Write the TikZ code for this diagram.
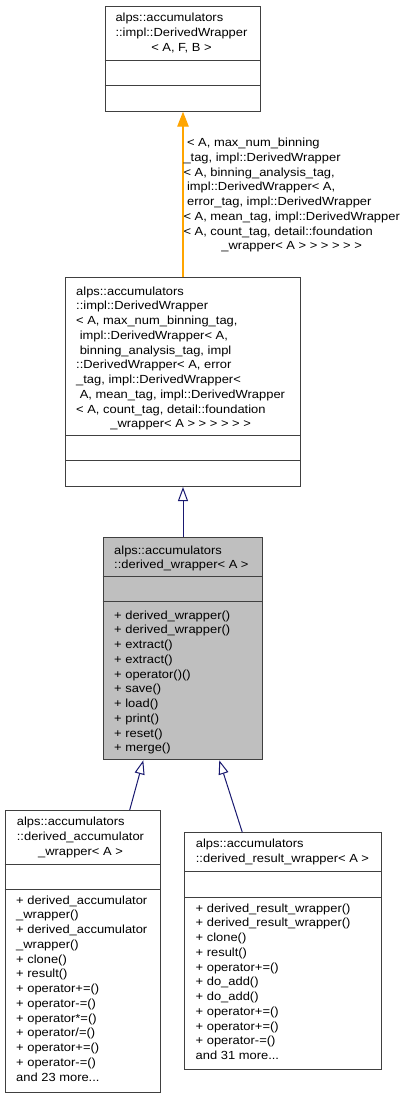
\documentclass[tikz,border=0pt]{standalone}
\usepackage{fontspec}
\setmainfont{Liberation Sans}[FakeStretch=1.1]
\usetikzlibrary{arrows.meta}
\definecolor{bordergray}{HTML}{404040}
\definecolor{edgeblue}{HTML}{191970}
\definecolor{edgeorange}{HTML}{FFA500}
\definecolor{fillgray}{HTML}{BFBFBF}
\begin{document}
\begin{tikzpicture}[x=1pt,y=-1pt,
  classbox/.style={draw=bordergray, line width=1pt, inner sep=0pt, anchor=north west},
  divider/.style={draw=bordergray, line width=1pt},
  txt/.style={font=\fontsize{11.75}{14.75}\selectfont, inner sep=0pt, anchor=base west, text=black},
  inh/.style={color=edgeblue, line width=1pt, -{Triangle[open, length=14pt, width=10pt]}},
  tmpl/.style={color=edgeorange, line width=1.2pt, -{Triangle[length=15pt, width=11.5pt, fill=edgeorange]}}]
\useasboundingbox[fill=white] (0,0) rectangle (409,1097);

% class boxes
\node[classbox, minimum width=155.6pt, minimum height=105pt] (b1) at (104.7,5.7) {};
\node[classbox, minimum width=235pt, minimum height=208.7pt] (b2) at (65,277.3) {};
\node[classbox, fill=fillgray, minimum width=159.6pt, minimum height=222.6pt] (b3) at (102.7,536.7) {};
\node[classbox, minimum width=155.6pt, minimum height=281.7pt] (b4) at (4.7,810) {};
\node[classbox, minimum width=197pt, minimum height=236.4pt] (b5) at (184,832.3) {};

% compartment dividers
\draw[divider] (b1.west |- 0,61) -- (b1.east |- 0,61);
\draw[divider] (b1.west |- 0,86) -- (b1.east |- 0,86);
\draw[divider] (b2.west |- 0,435.5) -- (b2.east |- 0,435.5);
\draw[divider] (b2.west |- 0,460.7) -- (b2.east |- 0,460.7);
\draw[divider] (b3.west |- 0,576.7) -- (b3.east |- 0,576.7);
\draw[divider] (b3.west |- 0,601.7) -- (b3.east |- 0,601.7);
\draw[divider] (b4.west |- 0,864.3) -- (b4.east |- 0,864.3);
\draw[divider] (b4.west |- 0,889.3) -- (b4.east |- 0,889.3);
\draw[divider] (b5.west |- 0,871) -- (b5.east |- 0,871);
\draw[divider] (b5.west |- 0,897.3) -- (b5.east |- 0,897.3);

% texts
\node[txt] (t1) at (115.3,22) {\begin{tabular}[t]{@{}l@{}}alps::accumulators\\::impl::DerivedWrapper\\\multicolumn{1}{@{}c@{}}{< A, F, B >}\end{tabular}};

\node[txt] (t2) at (76,295) {\begin{tabular}[t]{@{}l@{}}alps::accumulators\\::impl::DerivedWrapper\\< A, max\_num\_binning\_tag,\\\ impl::DerivedWrapper< A,\\\ binning\_analysis\_tag, impl\\::DerivedWrapper< A, error\\\_tag, impl::DerivedWrapper<\\\ A, mean\_tag, impl::DerivedWrapper\\< A, count\_tag, detail::foundation\\\multicolumn{1}{@{}c@{}}{\_wrapper< A > > > > > >}\end{tabular}};

\node[txt] (t3) at (114,554) {\begin{tabular}[t]{@{}l@{}}alps::accumulators\\::derived\_wrapper< A >\end{tabular}};
\node[txt] (m3) at (114,619) {\begin{tabular}[t]{@{}l@{}}+ derived\_wrapper()\\+ derived\_wrapper()\\+ extract()\\+ extract()\\+ operator()()\\+ save()\\+ load()\\+ print()\\+ reset()\\+ merge()\end{tabular}};

\node[txt] (t4) at (16.7,825.5) {\begin{tabular}[t]{@{}l@{}}alps::accumulators\\::derived\_accumulator\\\multicolumn{1}{@{}c@{}}{\_wrapper< A >}\end{tabular}};
\node[txt] (m4) at (16,904) {\begin{tabular}[t]{@{}l@{}}+ derived\_accumulator\\\_wrapper()\\+ derived\_accumulator\\\_wrapper()\\+ clone()\\+ result()\\+ operator+=()\\+ operator-=()\\+ operator*=()\\+ operator/=()\\+ operator+=()\\+ operator-=()\\and 23 more...\end{tabular}};

\node[txt] (t5) at (195.7,847.5) {\begin{tabular}[t]{@{}l@{}}alps::accumulators\\::derived\_result\_wrapper< A >\end{tabular}};
\node[txt] (m5) at (195.5,912) {\begin{tabular}[t]{@{}l@{}}+ derived\_result\_wrapper()\\+ derived\_result\_wrapper()\\+ clone()\\+ result()\\+ operator+=()\\+ do\_add()\\+ do\_add()\\+ operator+=()\\+ operator+=()\\+ operator-=()\\and 31 more...\end{tabular}};

% edges
\draw[tmpl] (b2.north) -- (b1.south);
\node[txt] (lbl) at (183.3,146.5) {\begin{tabular}[t]{@{}l@{}}\ < A, max\_num\_binning\\\_tag, impl::DerivedWrapper\\< A, binning\_analysis\_tag,\\\ impl::DerivedWrapper< A,\\\ error\_tag, impl::DerivedWrapper\\< A, mean\_tag, impl::DerivedWrapper\\< A, count\_tag, detail::foundation\\\multicolumn{1}{@{}c@{}}{\_wrapper< A > > > > > >}\end{tabular}};

\draw[inh] (b3.north) -- (b2.south);
\draw[inh] ([xshift=125pt]b4.north west) -- ([xshift=40.6pt]b3.south west);
\draw[inh] ([xshift=58.3pt]b5.north west) -- ([xshift=116.6pt]b3.south west);
\end{tikzpicture}
\end{document}
